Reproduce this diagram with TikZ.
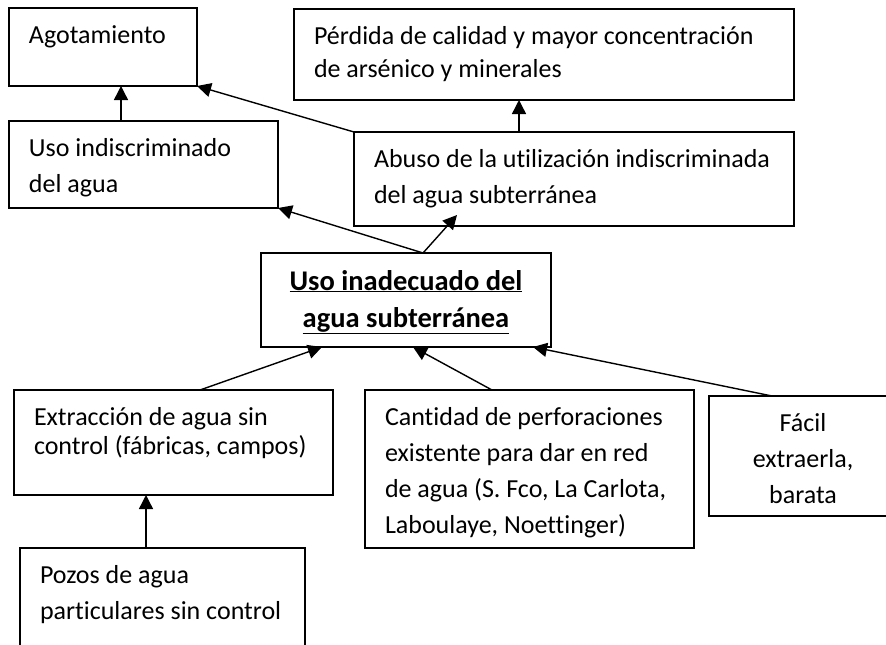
\documentclass[tikz,border=0pt]{standalone}
\usepackage{fontspec}
\setmainfont{Carlito}[Ligatures=NoCommon]
\usetikzlibrary{arrows.meta}

% texto arriba dentro de una caja de ancho y alto fijos
\newcommand{\cuadro}[4][\raggedright\leftskip=20pt]{%
  \parbox[t][#3][t]{#2}{#1\parindent=0pt\rule{0pt}{35pt}\ignorespaces#4}}

\begin{document}
\begin{tikzpicture}[
  x=1pt, y=-1pt,
  caja/.style={rectangle, draw=black, line width=1.6pt, anchor=north west,
    inner sep=0pt, outer sep=0pt, font=\fontsize{26}{36}\selectfont},
  flecha/.style={-{Triangle[length=14pt, width=14pt]}, line width=1.4pt}
]
  \useasboundingbox (0,0) rectangle (886,645);

  \node[caja] (agot) at (9,8) {\cuadro{188pt}{78pt}{Agotamiento}};
  \node[caja] (perdida) at (294,9) {\cuadro{500pt}{91pt}{\baselineskip=33pt
    P\'erdida de calidad y mayor concentraci\'on\\de ars\'enico y minerales}};
  \node[caja] (usoind) at (9,121) {\cuadro{269pt}{87pt}{Uso indiscriminado\\del agua}};
  \node[caja] (abuso) at (354,132) {\cuadro{440pt}{94pt}{Abuso de la utilizaci\'on indiscriminada\\del agua subterr\'anea}};
  \node[caja, font=\fontsize{28.5}{37}\selectfont\bfseries] (central) at (261,253) {\cuadro[\centering]{290pt}{94pt}{%
    \rule{0pt}{37pt}\underline{Uso inadecuado del}\\\underline{agua subterr\'anea}}};
  \node[caja] (extrac) at (14,390) {\cuadro{319pt}{105pt}{\baselineskip=29pt
    Extracci\'on de agua sin\\control (f\'abricas, campos)}};
  \node[caja] (cantidad) at (365,390) {\cuadro{329pt}{158pt}{Cantidad de perforaciones\\existente para dar en red\\de agua (S. Fco, La Carlota,\\Laboulaye, Noettinger)}};
  \node[caja] (facil) at (709,396) {\cuadro[\centering]{188pt}{120pt}{F\'acil\\extraerla,\\barata}};
  \node[caja] (pozos) at (20,548) {\cuadro{285pt}{120pt}{Pozos de agua\\particulares sin control}};

  \draw[flecha] ([xshift=112pt]usoind.north west) -- ([xshift=112pt]agot.south west);
  \draw[flecha] (abuso.north west) -- (agot.south east);
  \draw[flecha] ([xshift=165pt]abuso.north west) -- ([xshift=225pt]perdida.south west);
  \draw[flecha] ([xshift=162pt]central.north west) -- (usoind.south east);
  \draw[flecha] ([xshift=162pt]central.north west) -- ([xshift=103pt,yshift=11pt]abuso.south west);
  \draw[flecha] ([xshift=186pt]extrac.north west) -- ([xshift=61pt]central.south west);
  \draw[flecha] ([xshift=127pt]cantidad.north west) -- ([xshift=152pt]central.south west);
  \draw[flecha] ([xshift=63pt]facil.north west) -- ([xshift=272pt]central.south west);
  \draw[flecha] ([xshift=126pt]pozos.north west) -- ([xshift=132pt]extrac.south west);
\end{tikzpicture}
\end{document}
